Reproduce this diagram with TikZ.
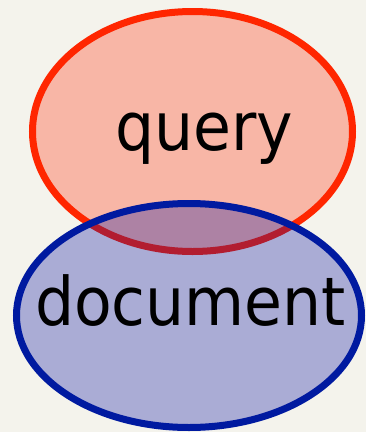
\documentclass[tikz,border=0pt]{standalone}
\usepackage{fontspec}
\newfontfamily\labelfont{DejaVu Sans}
\definecolor{paper}{RGB}{244,243,236}
\definecolor{queryfill}{RGB}{248,182,166}
\definecolor{queryline}{RGB}{255,38,0}
\definecolor{docfill}{RGB}{0,10,160}
\definecolor{docline}{RGB}{0,26,160}
\begin{document}
\begin{tikzpicture}[x=1pt,y=-1pt,
  label/.style={inner sep=0pt,anchor=base,xscale=0.92,
    font=\labelfont\fontsize{67}{80}\selectfont}]
  \fill[paper] (0,0) rectangle (366,432);
  \useasboundingbox (0,0) rectangle (366,432);
  % query set
  \coordinate (qc) at (192.5,131.5);
  \draw[line width=7pt,draw=queryline,fill=queryfill] (qc) ellipse [x radius=160,y radius=120];
  \node[label] (query) at (204,150) {query};
  % document set, translucent so the overlap shows through
  \coordinate (dc) at (189,315.5);
  \draw[line width=7pt,draw=docline,fill=docfill,fill opacity=0.3] (dc) ellipse [x radius=172.5,y radius=112];
  \node[label] (document) at (190.5,325) {document};
\end{tikzpicture}
\end{document}
